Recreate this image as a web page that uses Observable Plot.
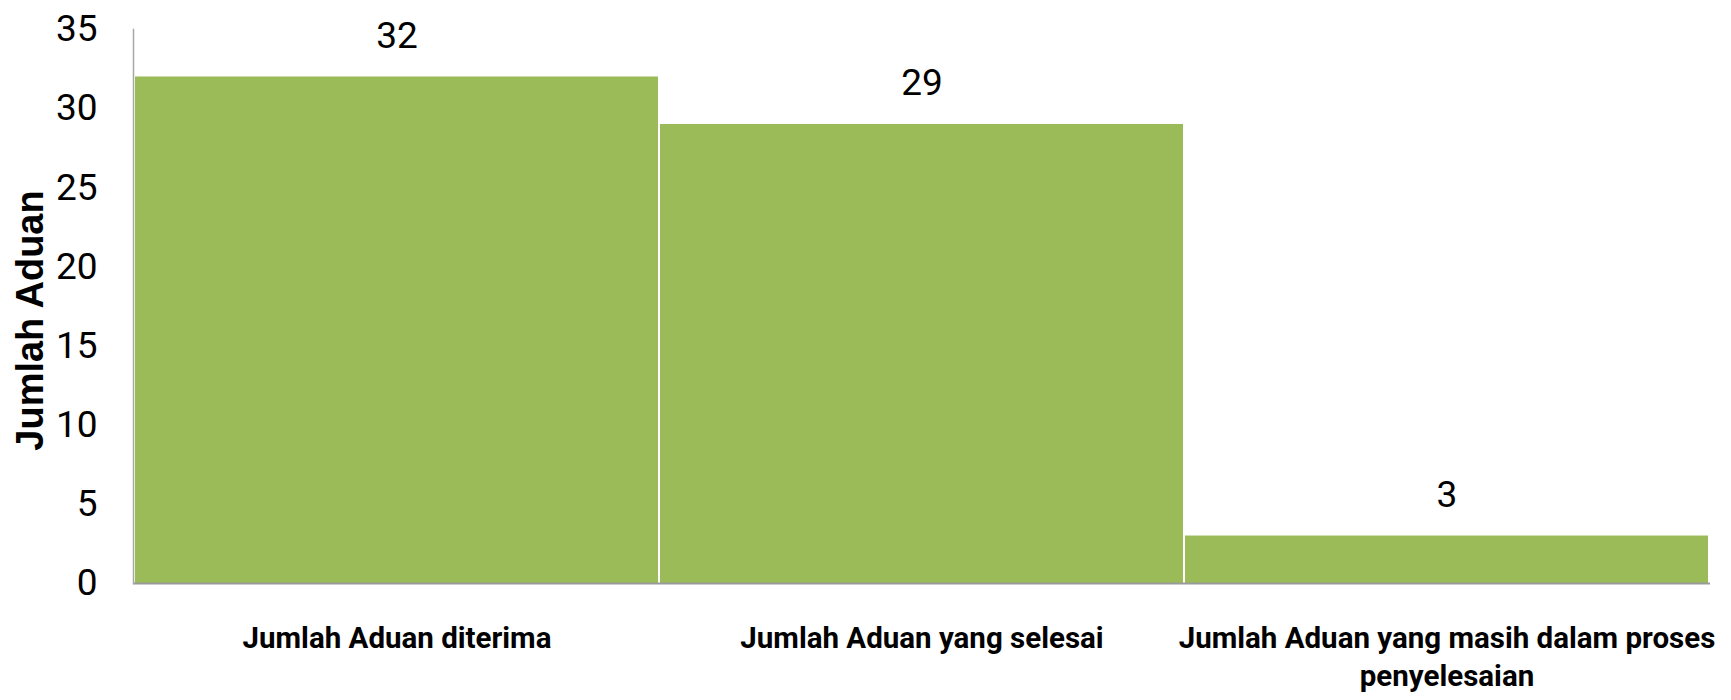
<!DOCTYPE html>
<html>
<head>
<meta charset="utf-8">
<script src="https://cdn.jsdelivr.net/npm/d3@7"></script>
<script src="https://cdn.jsdelivr.net/npm/@observablehq/plot@0.6"></script>
<style>
  body { margin: 0; background: #fff; }
</style>
</head>
<body>
<div id="chart"></div>
<script>
const categories = [
  "Jumlah Aduan diterima",
  "Jumlah Aduan yang selesai",
  "Jumlah Aduan yang masih dalam proses penyelesaian"
];
const categoryLabels = [
  "Jumlah Aduan diterima",
  "Jumlah Aduan yang selesai",
  "Jumlah Aduan yang masih dalam proses\npenyelesaian"
];
const values = [32, 29, 3];
const yTicks = [0, 5, 10, 15, 20, 25, 30, 35];
const yTitle = "Jumlah Aduan";

const data = categories.map((c, i) => ({category: c, value: values[i]}));
const labelOf = new Map(categories.map((c, i) => [c, categoryLabels[i]]));

const narrow = "Roboto, sans-serif";

const chart = Plot.plot({
  width: 1731,
  height: 700,
  marginLeft: 133,
  marginRight: 21,
  marginTop: 29,
  marginBottom: 117,
  style: {fontFamily: narrow, background: "#fff", color: "#000"},
  x: {domain: categories, padding: 0},
  y: {domain: [0, 35]},
  marks: [
    Plot.barY(data, {x: "category", y: "value", fill: "#9BBB59", insetLeft: 1, insetRight: 1}),
    Plot.ruleY([0], {stroke: "#9a9a9a", strokeWidth: 2}),
    Plot.frame({anchor: "left", stroke: "#a6a6a6", strokeWidth: 1.5}),
    Plot.axisY({ticks: yTicks, tickSize: 0, tickPadding: 36, fontSize: 37, label: null, tickFormat: d => String(d)}),
    Plot.axisX({tickSize: 0, tickPadding: 37, fontSize: 29.5, fontWeight: "bold", lineHeight: 1.3, label: null,
      tickFormat: d => labelOf.get(d), textOverflow: null, lineWidth: Infinity}),
    Plot.text(data, {x: "category", y: "value", text: d => String(d.value), fontSize: 37, lineAnchor: "middle", dy: -41, fill: "#000"}),
    Plot.text([yTitle], {frameAnchor: "left", textAnchor: "middle", lineAnchor: "middle", rotate: -90, dx: -103, dy: 14, fontSize: 38, fontWeight: "bold",
      fontFamily: "'Liberation Sans', Arial, sans-serif", fill: "#000"})
  ]
});
document.getElementById("chart").appendChild(chart);
</script>
</body>
</html>
